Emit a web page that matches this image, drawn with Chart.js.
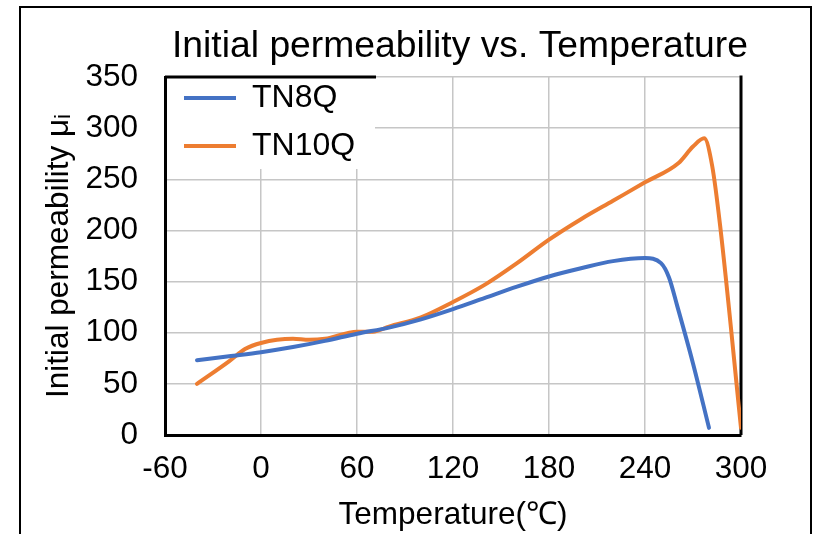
<!DOCTYPE html>
<html>
<head>
<meta charset="utf-8">
<script src="https://cdn.jsdelivr.net/npm/chart.js@4.4.1/dist/chart.umd.min.js"></script>
<style>
  html, body { margin: 0; padding: 0; background: #fff; }
  #wrap { width: 821px; height: 534px; }
</style>
</head>
<body>
<div id="wrap"><canvas id="permChart" width="821" height="534"></canvas></div>
<script>
// values
const tempsTN8Q = [-40, -20, 0, 20, 40, 60, 80, 100, 120, 140, 160, 180, 200, 220, 240, 250, 255, 260, 270, 280];
const muTN8Q    = [73, 77, 81, 86, 92, 99, 105, 113, 123, 134, 145, 155, 163, 170, 173, 168, 154, 127, 70, 7];

const tempsTN10Q = [-40, -20, -10, 0, 20, 30, 40, 60, 70, 80, 100, 120, 140, 160, 180, 200, 220, 240, 261, 270, 277, 282, 287, 300];
const muTN10Q    = [50, 72, 84, 90, 94, 93, 94, 101, 101, 106, 115, 130, 147, 168, 191, 211, 229, 247, 266, 282, 290, 263, 204, 7];

const xTicks = [-60, 0, 60, 120, 180, 240, 300];
const yTicks = [0, 50, 100, 150, 200, 250, 300, 350];

const FONT = 'Arial, "Liberation Sans", sans-serif';

function toPoints(xs, ys) {
  return xs.map((x, i) => ({ x: x, y: ys[i] }));
}

// white legend backdrop, plot frame and outer border
const framePlugin = {
  id: 'frame',
  afterLayout(chart) {
    const ca = chart.chartArea;
    chart.legend.left = ca.left + 3;
    chart.legend.top = ca.top - 11;
    chart.titleBlock.left += 7;
    chart.titleBlock.right += 7;
  },
  beforeDatasetsDraw(chart) {
    const { ctx, chartArea: ca } = chart;
    ctx.save();
    ctx.fillStyle = '#fff';
    ctx.fillRect(ca.left + 2, ca.top - 1, 208, 93);
    ctx.strokeStyle = '#000';
    ctx.lineWidth = 3;
    ctx.beginPath();
    ctx.moveTo(ca.left, ca.top);
    ctx.lineTo(ca.left + 211, ca.top);
    ctx.moveTo(ca.right, ca.top - 1.5);
    ctx.lineTo(ca.right, ca.bottom);
    ctx.stroke();
    ctx.restore();
    chart.legend.draw();
  },
  afterDraw(chart) {
    const ctx = chart.ctx;
    ctx.save();
    ctx.strokeStyle = '#000';
    ctx.lineWidth = 2;
    ctx.strokeRect(20, 7, 791, 600);
    ctx.restore();
  }
};

const ctx = document.getElementById('permChart').getContext('2d');

const permChart = new Chart(ctx, {
  type: 'line',
  data: {
    datasets: [{
      label: 'TN8Q',
      data: toPoints(tempsTN8Q, muTN8Q),
      borderColor: '#4472C4',
      backgroundColor: '#4472C4',
      borderWidth: 4,
      borderCapStyle: 'round',
      pointRadius: 0,
      cubicInterpolationMode: 'monotone'
    }, {
      label: 'TN10Q',
      data: toPoints(tempsTN10Q, muTN10Q),
      borderColor: '#ED7D31',
      backgroundColor: '#ED7D31',
      borderWidth: 4,
      borderCapStyle: 'round',
      pointRadius: 0,
      cubicInterpolationMode: 'monotone'
    }]
  },
  options: {
    responsive: false,
    animation: false,
    layout: { padding: { left: 0, right: 80, top: 0, bottom: 0 } },
    plugins: {
      title: {
        display: true,
        fullSize: false,
        text: 'Initial permeability vs. Temperature',
        color: '#000',
        font: { family: FONT, size: 37.5, weight: 'normal' },
        padding: { top: 24, bottom: 8 }
      },
      legend: {
        position: 'chartArea',
        align: 'start',
        labels: {
          usePointStyle: true,
          pointStyle: 'line',
          pointStyleWidth: 52,
          boxWidth: 52,
          padding: 16,
          color: '#000',
          font: { family: FONT, size: 32 }
        }
      },
      tooltip: { enabled: false }
    },
    scales: {
      x: {
        type: 'linear',
        min: -60,
        max: 300,
        afterFit(scale) { scale.height = 99; },
        afterBuildTicks(scale) { scale.ticks = xTicks.map(v => ({ value: v })); },
        ticks: {
          color: '#000',
          padding: 15,
          font: { family: FONT, size: 31.5 }
        },
        grid: { color: '#c6c6c6', lineWidth: 1.5, drawTicks: false },
        border: { color: '#000', width: 3 },
        title: {
          display: true,
          text: 'Temperature(℃)',
          color: '#000',
          font: { family: FONT, size: 31.5 },
          padding: { top: 0, bottom: 0 }
        }
      },
      y: {
        min: 0,
        max: 350,
        afterFit(scale) { scale.width = 165; },
        afterBuildTicks(scale) { scale.ticks = yTicks.map(v => ({ value: v })); },
        ticks: {
          color: '#000',
          padding: 27,
          font: { family: FONT, size: 31.5 }
        },
        grid: { color: '#c6c6c6', lineWidth: 1.5, drawTicks: false },
        border: { color: '#000', width: 3 },
        title: {
          display: true,
          text: 'Initial permeability μᵢ',
          color: '#000',
          font: { family: FONT, size: 31.5 },
          padding: { top: 40, bottom: 0 }
        }
      }
    }
  },
  plugins: [framePlugin]
});
</script>
</body>
</html>
